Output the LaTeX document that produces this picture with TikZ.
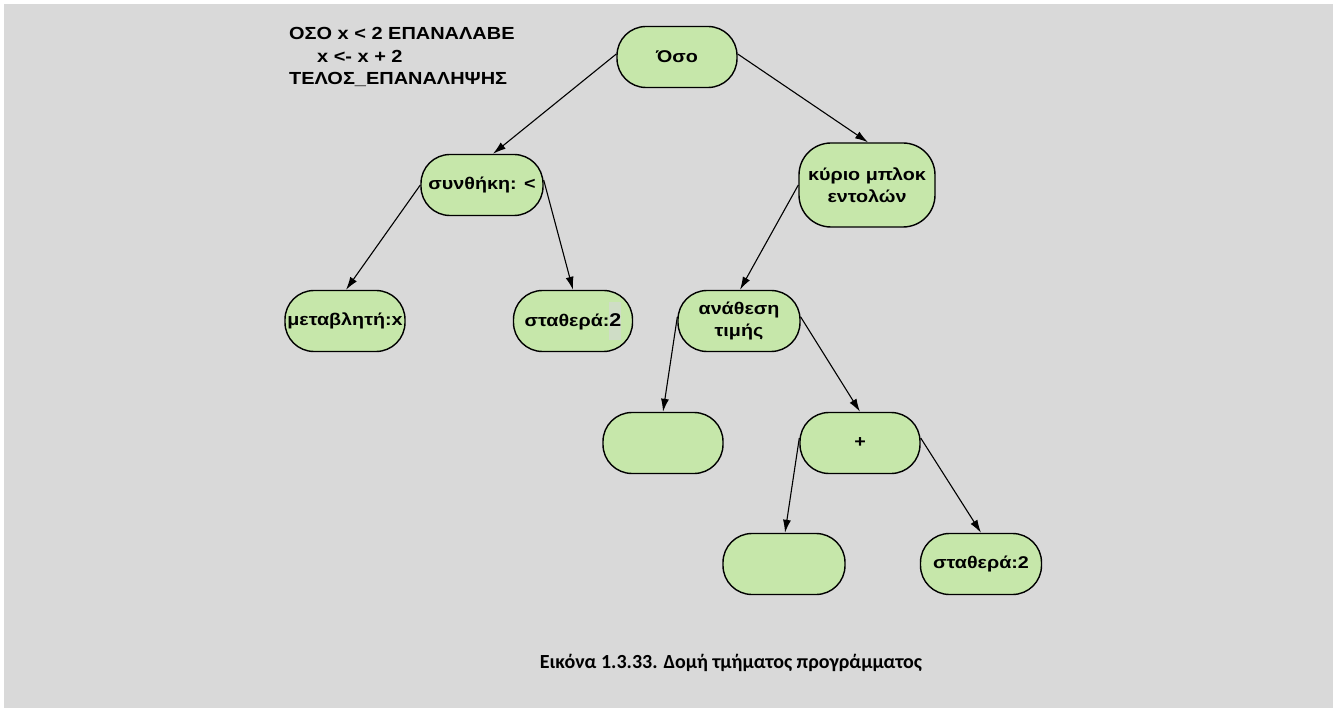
\documentclass[tikz,border=0pt]{standalone}
\usepackage{fontspec}
\setmainfont{Liberation Sans}
\newfontfamily\widefont[FakeStretch=1.16]{Liberation Sans}
\newfontfamily\codefont[FakeStretch=1.14]{Liberation Sans}
\newfontfamily\capfont{Carlito}
\usetikzlibrary{arrows.meta}
\definecolor{bg}{HTML}{D9D9D9}
\definecolor{nodegreen}{HTML}{C6E7AA}
\definecolor{patch}{HTML}{CFDDC6}
\tikzset{
  tnode/.style={draw=black, line width=1.4pt, fill=nodegreen, rounded corners=29pt,
    minimum width=120pt, minimum height=61pt, inner sep=0pt, align=center,
    font=\widefont\fontsize{17}{20}\selectfont\bfseries},
  arr/.style={draw=black, line width=1.1pt, -{Latex[length=13pt,width=8pt]}},
  codetxt/.style={anchor=west, inner sep=0pt, font=\codefont\fontsize{17.5}{19}\selectfont\bfseries}
}
\begin{document}
\begin{tikzpicture}[x=1pt,y=-1pt]
\fill[white] (0,0) rectangle (1333,708);
\fill[bg] (4,4) rectangle (1333,708);
\useasboundingbox (0,0) rectangle (1333,708);

\node[codetxt] (c1) at (289,33) {ΟΣΟ x < 2 ΕΠΑΝΑΛΑΒΕ};
\node[codetxt] (c2) at (317,56) {x <- x + 2};
\node[codetxt] (c3) at (289,79) {ΤΕΛΟΣ\_ΕΠΑΝΑΛΗΨΗΣ};

\node[tnode] (oso) at (677,57) {Όσο};
\node[tnode, minimum width=122pt] (cond) at (482,185) {συνθήκη: <};
\node[tnode, minimum width=136pt, minimum height=84pt, rounded corners=32pt] (block) at (867,185) {κύριο μπλοκ\\[2pt]εντολών};
\node[tnode] (var) at (345,321) {μεταβλητή:x};
\node[tnode, minimum width=119pt] (const1) at (573,321) {σταθερά:{\fboxsep=0pt\colorbox{patch}{\rule[-13pt]{0pt}{38pt}\fontsize{18.5}{20}\selectfont 2}}};
\node[tnode, minimum width=122pt] (assign) at (739,321) {ανάθεση\\[2pt]τιμής};
\node[tnode] (empty1) at (663,443) {};
\node[tnode] (plus) at (860,443) {+};
\node[tnode, minimum width=122pt] (empty2) at (784,564) {};
\node[tnode, minimum width=121pt] (const2) at (981,564) {σταθερά:2};

\draw[arr] ([yshift=3pt]oso.west) -- ([xshift=11pt]cond.north);
\draw[arr] ([yshift=3pt]oso.east) -- ([xshift=1pt]block.north);
\draw[arr] (cond.west) -- ([xshift=1pt]var.north);
\draw[arr] ([yshift=5pt]cond.east) -- (const1.north);
\draw[arr] (block.west) -- ([xshift=1pt]assign.north);
\draw[arr] ([yshift=4pt]assign.west) -- (empty1.north);
\draw[arr] ([yshift=4pt]assign.east) -- (plus.north);
\draw[arr] ([yshift=5pt]plus.west) -- ([xshift=1pt]empty2.north);
\draw[arr] ([yshift=5pt]plus.east) -- (const2.north);

\node[font=\capfont\fontsize{20}{23}\selectfont\bfseries] (cap) at (731,663) {Εικόνα 1.3.33. Δομή τμήματος προγράμματος};
\end{tikzpicture}
\end{document}
